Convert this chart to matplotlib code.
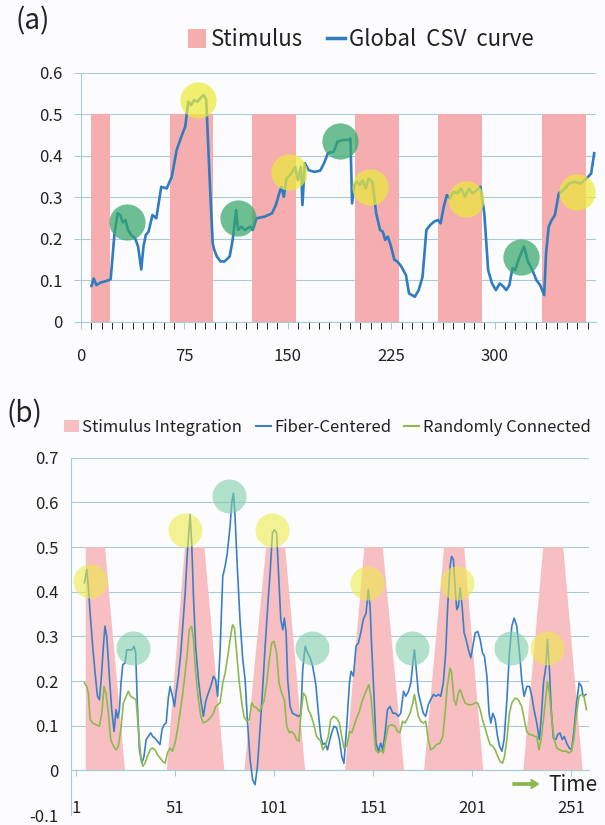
import numpy as np
import matplotlib.pyplot as plt
from matplotlib.patches import Patch, FancyArrow
from matplotlib.lines import Line2D

plt.rcParams['font.family'] = ['Noto Sans CJK KR', 'DejaVu Sans']

# ---------------- (a) global CSV curve ----------------
csv_t = [7.6, 9.2, 11.2, 14, 18.2, 21.5, 24.3, 26.6, 28.5, 30.2, 32.2, 34.1, 36.4,
         39.2, 41.4, 43.7, 45.3, 47, 49, 51.8, 54.6, 58.2, 62.1, 65.8, 69.4, 72.8,
         75.6, 77.8, 79.8, 82, 84.5, 86.8, 89, 90.8, 93.5, 95.5, 96.5, 98.5, 101.3,
         104.1, 107.8, 110, 112.5, 113.9, 116.1, 118.9, 122.6, 124.5, 127.3, 133,
         138.5, 141.3, 144.1, 145.4, 147.1, 149, 152.5, 155.3, 157.3, 159.5, 160.6,
         162.3, 165.1, 169.3, 173.5, 176.3, 179.1, 183.3, 186.1, 190.3, 194.5, 195.4,
         196.6, 198.2, 200.1, 202.1, 204.3, 206.6, 208.5, 211.3, 214.1, 216.9, 218.9,
         220.6, 222.5, 224.5, 227.3, 229.5, 232.3, 235.7, 237.9, 240.1, 242.1, 244.9,
         247.7, 250.5, 253.3, 256.1, 258.9, 260.8, 263.1, 265.3, 267.3, 270.1, 272.9,
         275.7, 278.5, 281.3, 284.1, 286.9, 289.7, 292.5, 295.3, 298.1, 300.9, 303.7,
         306.5, 308.4, 310.7, 312.9, 314.8, 317.7, 321.3, 324.1, 327.4, 330.3, 333,
         335.9, 337.3, 339.2, 341.4, 343.7, 346.5, 349.8, 354, 358.2, 362.4, 366.6,
         370, 372.2]
csv_v = [0.086, 0.104, 0.088, 0.094, 0.098, 0.102, 0.213, 0.261, 0.257, 0.239, 0.245,
         0.221, 0.209, 0.201, 0.181, 0.126, 0.181, 0.209, 0.217, 0.257, 0.249, 0.325,
         0.321, 0.349, 0.414, 0.446, 0.470, 0.530, 0.522, 0.534, 0.530, 0.540, 0.546,
         0.535, 0.330, 0.190, 0.175, 0.157, 0.145, 0.145, 0.157, 0.197, 0.269, 0.221,
         0.229, 0.221, 0.229, 0.221, 0.249, 0.253, 0.261, 0.281, 0.313, 0.325, 0.301,
         0.345, 0.357, 0.373, 0.341, 0.373, 0.281, 0.382, 0.365, 0.361, 0.364, 0.382,
         0.406, 0.410, 0.434, 0.438, 0.438, 0.442, 0.285, 0.329, 0.337, 0.329, 0.341,
         0.321, 0.345, 0.337, 0.261, 0.221, 0.217, 0.197, 0.205, 0.185, 0.149, 0.145,
         0.133, 0.112, 0.068, 0.064, 0.060, 0.076, 0.108, 0.221, 0.233, 0.241, 0.245,
         0.237, 0.277, 0.305, 0.297, 0.313, 0.309, 0.321, 0.301, 0.321, 0.309, 0.317,
         0.325, 0.261, 0.124, 0.092, 0.076, 0.092, 0.084, 0.076, 0.088, 0.129, 0.124,
         0.153, 0.181, 0.145, 0.124, 0.100, 0.088, 0.064, 0.165, 0.229, 0.245, 0.257,
         0.309, 0.317, 0.333, 0.337, 0.333, 0.345, 0.357, 0.406]

# stimulus on-periods (time steps)
stim_start = [7.3, 64.4, 124, 199, 259, 334.4]
stim_end = [21, 95.4, 155.6, 230.3, 290.5, 366]
stim_level = 0.5

# highlighted states
a_green_t = [33.6, 113.9, 187.5, 319]
a_green_v = [0.241, 0.251, 0.436, 0.157]
a_yellow_t = [84.5, 151, 209.3, 279.4, 359.6]
a_yellow_v = [0.534, 0.361, 0.325, 0.295, 0.313]

# ---------------- (b) network comparison ----------------
fc_t = [5.2, 6.4, 7.2, 8.1, 9.4, 10.6, 11.8, 12.8, 13.8, 14.8, 15.6, 16.5, 17.7, 19,
        20.2, 21.2, 22, 22.9, 23.7, 24.6, 25.7, 26.6, 27.9, 29.1, 30.3, 31.1, 32, 33,
        34.2, 35.3, 36.4, 37.5, 38.7, 39.7, 40.9, 42.1, 43.4, 44.4, 45.4, 46.5, 47.6,
        48.5, 49.7, 50.7, 51.5, 52.7, 53.9, 54.9, 56.1, 57.2, 58.6, 59.4, 60.3, 61.4,
        62.8, 64, 65.3, 66.5, 67.8, 69, 70.4, 71.5, 72.5, 73.7, 75.1, 76.3, 77.4, 78.8,
        79.6, 80.5, 81.3, 82.5, 83.8, 85.2, 86.4, 87.5, 88.9, 90.2, 91.4, 92.6, 93.9,
        95.3, 96.5, 97.8, 99, 100.2, 101.2, 102.3, 103.2, 104.4, 105.4, 106.2, 107.1,
        107.9, 109.1, 110.3, 111.6, 113.3, 114.5, 115.5, 116.7, 118, 119.2, 120.5,
        121.7, 122.2, 123.4, 124.6, 125.6, 126.8, 128, 129, 130.1, 131.3, 132.6, 134,
        135.2, 136.3, 137.7, 139.1, 139.9, 141.1, 142.4, 143.6, 144.8, 146.1, 147.5,
        148.6, 149.5, 150.3, 151.5, 152.5, 153.7, 154.9, 155.9, 157.1, 158.3, 159.6,
        161, 162.3, 163.8, 165, 166.4, 167.5, 168.9, 170.1, 171.1, 171.9, 172.7, 173.9,
        175.1, 176.4, 177.6, 178.9, 180.1, 181.5, 182.8, 184, 185.2, 186.5, 187.7,
        188.7, 189.9, 190.7, 191.6, 192.4, 193.3, 194.1, 195, 196, 197, 198, 199.2,
        200.4, 201.4, 202.6, 203.9, 205.1, 206.3, 207.3, 208.5, 209.6, 210.5, 211.5,
        212.7, 213.9, 214.9, 216.1, 217.2, 218.6, 219.9, 221.1, 222.3, 223.6, 225,
        226.1, 227.3, 228.7, 230, 231.2, 232.3, 233.7, 235, 235.9, 237.1, 238.3, 239.1,
        240.1, 241, 242.1, 243.3, 244.3, 245.4, 246.6, 247.6, 248.8, 250.1, 251.3,
        252.4, 253.8, 255.1, 256.3, 257.1, 258.5]
fiber_centered = [
        0.420, 0.450, 0.412, 0.352, 0.278, 0.218, 0.166, 0.158, 0.211, 0.278, 0.323,
        0.300, 0.218, 0.136, 0.087, 0.136, 0.117, 0.136, 0.196, 0.237, 0.240, 0.270,
        0.270, 0.270, 0.278, 0.263, 0.143, 0.046, 0.016, 0.031, 0.069, 0.076, 0.084,
        0.076, 0.072, 0.065, 0.058, 0.091, 0.102, 0.106, 0.162, 0.188, 0.166, 0.143,
        0.173, 0.211, 0.263, 0.323, 0.397, 0.487, 0.573, 0.509, 0.390, 0.278, 0.203,
        0.158, 0.121, 0.155, 0.173, 0.188, 0.211, 0.203, 0.166, 0.263, 0.435, 0.457,
        0.487, 0.547, 0.599, 0.621, 0.569, 0.450, 0.338, 0.248, 0.203, 0.114, 0.024,
        -0.021, -0.032, 0.009, 0.091, 0.188, 0.278, 0.367, 0.442, 0.532, 0.539, 0.532,
        0.450, 0.338, 0.315, 0.341, 0.308, 0.203, 0.143, 0.128, 0.125, 0.121, 0.125,
        0.226, 0.278, 0.263, 0.252, 0.233, 0.203, 0.188, 0.128, 0.076, 0.058, 0.061,
        0.046, 0.065, 0.084, 0.099, 0.095, 0.069, 0.031, 0.016, 0.099, 0.196, 0.222,
        0.211, 0.278, 0.285, 0.308, 0.338, 0.352, 0.405, 0.367, 0.278, 0.166, 0.061,
        0.043, 0.061, 0.046, 0.084, 0.136, 0.143, 0.128, 0.128, 0.121, 0.128, 0.177,
        0.166, 0.177, 0.196, 0.240, 0.270, 0.233, 0.173, 0.151, 0.128, 0.121, 0.147,
        0.158, 0.170, 0.166, 0.170, 0.166, 0.196, 0.263, 0.367, 0.457, 0.479, 0.472,
        0.412, 0.360, 0.367, 0.409, 0.367, 0.308, 0.293, 0.270, 0.252, 0.278, 0.308,
        0.311, 0.293, 0.263, 0.255, 0.211, 0.128, 0.106, 0.128, 0.114, 0.076, 0.054,
        0.043, 0.069, 0.158, 0.263, 0.323, 0.341, 0.323, 0.263, 0.203, 0.166, 0.188,
        0.188, 0.166, 0.136, 0.106, 0.069, 0.114, 0.196, 0.233, 0.293, 0.226, 0.136,
        0.072, 0.069, 0.080, 0.084, 0.069, 0.076, 0.061, 0.050, 0.046, 0.084, 0.151,
        0.196, 0.188, 0.166, 0.170]

rc_t = [5.2, 6.4, 7.2, 8.1, 9.4, 11.1, 12.8, 14, 15.1, 16.2, 17.3, 18.5, 19.9, 21.2,
        22.4, 23.6, 24.9, 26.3, 27.4, 28.6, 30, 31.3, 32.5, 33.7, 34.7, 35.8, 37, 38.4,
        39.6, 40.9, 42.1, 43.4, 44.8, 46, 47.1, 48.5, 49.7, 51, 52.2, 53.5, 54.9, 56.1,
        57.2, 58.2, 59.4, 60.3, 61.4, 62.8, 64, 65.3, 67, 68.7, 70.4, 71.5, 72.5, 73.7,
        75.1, 76.3, 77.6, 78.8, 80, 81, 82.1, 83.3, 84.7, 85.8, 87.2, 88.5, 89.7, 90.9,
        92.2, 93.6, 94.8, 95.9, 97.3, 98.6, 99.8, 101, 102.3, 103.5, 104.9, 106.2, 107.4,
        108.7, 109.9, 111.3, 112.4, 113.6, 114.6, 115.8, 117, 118.3, 119.5, 120.9, 122.5,
        124.6, 125.6, 126.8, 128.4, 129.6, 131, 132.6, 134, 135.2, 136.3, 137.7, 139.1,
        140.2, 141.4, 142.7, 144.1, 145.2, 146.4, 147.8, 148.9, 149.9, 151.1, 152.3,
        153.7, 154.9, 156.2, 157.4, 158.7, 160.4, 162.1, 163.4, 164.6, 165.9, 167.2,
        168.5, 169.7, 171.1, 171.9, 172.7, 173.9, 175.1, 176.4, 177.6, 178.9, 180.1,
        181.5, 183.1, 184.8, 186.2, 187.4, 188.5, 189.9, 190.7, 191.9, 192.9, 194.1,
        195, 196.2, 197.5, 199.2, 200.9, 202.6, 203.9, 205.1, 206.5, 207.6, 208.8,
        210.1, 211.5, 212.7, 214, 215.2, 216.4, 217.4, 218.6, 219.9, 221.1, 222.8,
        224.4, 226.1, 227.4, 228.6, 230, 231.2, 232.5, 233.7, 234.8, 235.9, 237.1,
        238.3, 239.1, 240.1, 241.3, 242.5, 243.8, 245.2, 246.8, 248.5, 250.1, 251.3,
        252.4, 253.8, 255.1, 256.3, 257.5, 258.8]
randomly_connected = [
        0.196, 0.188, 0.173, 0.114, 0.106, 0.102, 0.099, 0.128, 0.188, 0.170, 0.128,
        0.069, 0.054, 0.046, 0.054, 0.091, 0.151, 0.166, 0.177, 0.166, 0.162, 0.158,
        0.091, 0.031, 0.009, 0.016, 0.031, 0.046, 0.050, 0.046, 0.035, 0.028, 0.020,
        0.016, 0.039, 0.050, 0.043, 0.061, 0.091, 0.128, 0.173, 0.218, 0.263, 0.315,
        0.323, 0.293, 0.218, 0.158, 0.121, 0.106, 0.110, 0.117, 0.128, 0.143, 0.147,
        0.151, 0.196, 0.218, 0.255, 0.293, 0.326, 0.319, 0.263, 0.203, 0.151, 0.121,
        0.110, 0.114, 0.151, 0.143, 0.140, 0.132, 0.143, 0.155, 0.196, 0.248, 0.285,
        0.289, 0.263, 0.196, 0.173, 0.158, 0.099, 0.084, 0.087, 0.080, 0.069, 0.065,
        0.128, 0.173, 0.166, 0.136, 0.125, 0.106, 0.076, 0.065, 0.046, 0.054, 0.076,
        0.114, 0.121, 0.117, 0.106, 0.076, 0.050, 0.054, 0.087, 0.084, 0.099, 0.117,
        0.132, 0.151, 0.166, 0.181, 0.192, 0.166, 0.106, 0.046, 0.039, 0.046, 0.039,
        0.069, 0.099, 0.102, 0.099, 0.087, 0.084, 0.110, 0.106, 0.117, 0.128, 0.151,
        0.170, 0.151, 0.121, 0.110, 0.106, 0.110, 0.069, 0.046, 0.050, 0.058, 0.061,
        0.076, 0.128, 0.188, 0.229, 0.218, 0.158, 0.147, 0.173, 0.181, 0.166, 0.151,
        0.147, 0.147, 0.151, 0.151, 0.136, 0.110, 0.095, 0.076, 0.058, 0.054, 0.046,
        0.031, 0.020, 0.016, 0.031, 0.069, 0.128, 0.151, 0.162, 0.158, 0.143, 0.114,
        0.087, 0.080, 0.080, 0.076, 0.076, 0.046, 0.069, 0.114, 0.166, 0.199, 0.173,
        0.114, 0.069, 0.050, 0.046, 0.043, 0.043, 0.039, 0.043, 0.069, 0.128, 0.166,
        0.170, 0.166, 0.136]

# stimulus integration pulses: ramp-up start, plateau start, plateau end, ramp-down end
integ_t = [[5.9, 5.9, 15.6, 25.7],
           [46.8, 56.0, 65.8, 75.9],
           [86.0, 97.0, 106.6, 116.7],
           [136.9, 146.6, 155.9, 166.7],
           [176.8, 186.9, 197.0, 206.7],
           [226.9, 237.0, 247.1, 256.9]]
integ_v = [0, 0.5, 0.5, 0]

b_green_t = [30, 78.3, 120, 170.6, 220.7]
b_green_v = [0.274, 0.614, 0.274, 0.274, 0.274]
b_yellow_t = [8.1, 56.1, 99.8, 147.8, 193.3, 238.9]
b_yellow_v = [0.423, 0.539, 0.539, 0.420, 0.420, 0.274]

b_xticks = [1, 51, 101, 151, 201, 251]

PINK_A = "#f5adb0"
PINK_B = "#f7bfc1"
BLUE_A = "#2f7cc0"
BLUE_B = "#3b80c6"
GREEN_B = "#8dba50"
GRID = "#a9cbd9"
TEXT = "#222222"

fig = plt.figure(figsize=(6.05, 8.25), dpi=100, facecolor="#fcfcfe")


def style_axes(ax):
    ax.set_facecolor("none")
    for side in ("top", "right"):
        ax.spines[side].set_visible(False)
    ax.spines["left"].set_color(GRID)
    ax.spines["bottom"].set_color(GRID)
    ax.spines["left"].set_linewidth(0.8)
    ax.spines["bottom"].set_linewidth(0.8)
    ax.grid(axis="y", color=GRID, linewidth=0.8)
    ax.set_axisbelow(True)
    ax.tick_params(colors=GRID, labelcolor=TEXT, labelsize=12, width=0.8)


# ---- panel (a)
ax = fig.add_axes([0.1339, 0.6101, 0.8512, 0.3018])
style_axes(ax)
ax.bar(stim_start, stim_level, width=np.subtract(stim_end, stim_start), align="edge",
       color=PINK_A, linewidth=0, zorder=1)
ax.plot(csv_t, csv_v, color=BLUE_A, linewidth=1.9, zorder=3)
ax.scatter(a_green_t, a_green_v, s=680, color="#36a86a", alpha=0.72, linewidths=0, zorder=4)
ax.scatter(a_yellow_t, a_yellow_v, s=680, color="#ecea3c", alpha=0.72, linewidths=0, zorder=4)
ax.set_xlim(0, 373.5)
ax.set_ylim(0, 0.6)
ax.set_yticks(np.arange(0, 0.61, 0.1))
ax.set_yticklabels(["0", "0.1", "0.2", "0.3", "0.4", "0.5", "0.6"])
ax.set_xticks([0, 75, 150, 225, 300])
ax.set_xticks(np.arange(0, 368, 7.5), minor=True)
ax.tick_params(axis="x", which="both", direction="out", length=5, pad=14)
ax.tick_params(axis="y", length=5, pad=8)

handles_a = [Patch(facecolor=PINK_A, edgecolor="none"),
             Line2D([], [], color=BLUE_A, linewidth=2.5)]
fig.legend(handles_a, ["Stimulus", "Global  CSV  curve"], loc="center",
           bbox_to_anchor=(0.597, 0.952), ncol=2, frameon=False, fontsize=16,
           handlelength=0.8, handleheight=0.9, handletextpad=0.2, columnspacing=1.1,
           labelcolor=TEXT)
fig.text(0.025, 0.992, "(a)", fontsize=20, va="top", ha="left", color=TEXT)

# ---- panel (b)
bx = fig.add_axes([0.1169, 0.0121, 0.8567, 0.4330])
style_axes(bx)
for pulse in integ_t:
    bx.fill(pulse, integ_v, color=PINK_B, linewidth=0, zorder=1)
bx.plot(fc_t, fiber_centered, color=BLUE_B, linewidth=1.2, zorder=3)
bx.plot(rc_t, randomly_connected, color=GREEN_B, linewidth=1.2, zorder=3)
bx.scatter(b_green_t, b_green_v, s=600, color="#7fcfa8", alpha=0.6, linewidths=0, zorder=4)
bx.scatter(b_yellow_t, b_yellow_v, s=600, color="#eeec4c", alpha=0.6, linewidths=0, zorder=4)
bx.set_xlim(-1.7, 260.1)
bx.set_ylim(-0.1, 0.7)
bx.set_yticks(np.arange(-0.1, 0.71, 0.1))
bx.set_yticklabels(["-0.1", "0", "0.1", "0.2", "0.3", "0.4", "0.5", "0.6", "0.7"])
bx.spines["bottom"].set_position(("data", 0))
bx.set_xticks(b_xticks)
bx.tick_params(axis="x", direction="out", length=4, pad=17)
bx.tick_params(axis="y", length=0, pad=9)

handles_b = [Patch(facecolor=PINK_B, edgecolor="none"),
             Line2D([], [], color=BLUE_B, linewidth=1.5),
             Line2D([], [], color=GREEN_B, linewidth=1.5)]
fig.legend(handles_b, ["Stimulus Integration", "Fiber-Centered", "Randomly Connected"],
           loc="center", bbox_to_anchor=(0.541, 0.482), ncol=3, frameon=False,
           fontsize=12, handlelength=0.9, handleheight=0.8, handletextpad=0.2,
           columnspacing=0.8, labelcolor=TEXT)
fig.text(0.01, 0.516, "(b)", fontsize=20, va="top", ha="left", color=TEXT)

# time direction marker
fig.text(0.906, 0.0485, "Time", fontsize=15, va="center", ha="left", color=TEXT)
fig.patches.append(FancyArrow(
    0.848, 0.0497, 0.042, 0, width=0.003, head_width=0.011, head_length=0.012,
    length_includes_head=True, color=GREEN_B, transform=fig.transFigure, figure=fig))

fig.savefig("out.png", dpi=100, facecolor=fig.get_facecolor())
